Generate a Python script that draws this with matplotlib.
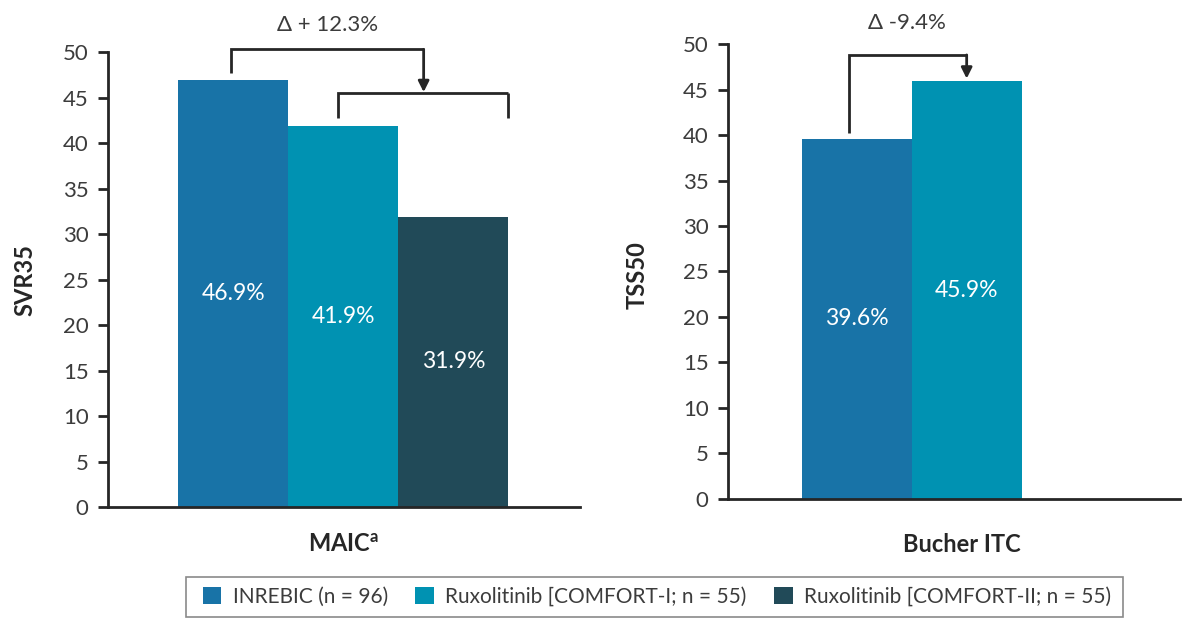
import matplotlib
matplotlib.use("Agg")
import matplotlib.pyplot as plt
from matplotlib.patches import Patch, Rectangle

plt.rcParams['font.family'] = ['Lato', 'DejaVu Sans']

# values
series_labels = ["INREBIC (n = 96)", "Ruxolitinib [COMFORT-I; n = 55)", "Ruxolitinib [COMFORT-II; n = 55)"]
series_colors = ["#1873a7", "#0092b2", "#214a58"]
maic_svr35 = [46.9, 41.9, 31.9]
bucher_tss50 = [39.6, 45.9]
maic_delta = "Δ + 12.3%"
bucher_delta = "Δ -9.4%"
yticks = [0, 5, 10, 15, 20, 25, 30, 35, 40, 45, 50]

ink = "#262626"
txt = "#3c3c3c"
W, H = 1190, 619

fig = plt.figure(figsize=(11.9, 6.19), dpi=100)
ax1 = fig.add_axes([0.0908, 0.1809, 0.3966, 0.735])
ax2 = fig.add_axes([0.6118, 0.1939, 0.3798, 0.735])


def style(ax):
    for s in ["top", "right"]:
        ax.spines[s].set_visible(False)
    for s in ["left", "bottom"]:
        ax.spines[s].set_linewidth(2)
        ax.spines[s].set_color(ink)
    ax.set_ylim(0, 50)
    ax.set_yticks(yticks)
    ax.tick_params(axis="y", length=7, width=2, color=ink, labelsize=16, labelcolor=txt, pad=7)
    ax.tick_params(axis="x", length=0, labelbottom=False)


def bars(ax, values):
    xs = range(len(values))
    ax.bar(xs, values, width=1.0, color=series_colors[:len(values)], linewidth=0)
    for x, v in zip(xs, values):
        ax.text(x, v / 2, f"{v:.1f}%", color="white", ha="center", va="center", fontsize=16.5)


def bracket(ax, x0, x1, y_top, y0, y1, lw=2):
    ax.plot([x0, x0, x1], [y0, y_top, y_top], color=ink, lw=lw, clip_on=False,
            solid_joinstyle="miter", solid_capstyle="butt")
    if y1 is not None:
        ax.plot([x1, x1], [y_top, y1], color=ink, lw=lw, clip_on=False, solid_capstyle="butt")


# MAIC panel
style(ax1)
bars(ax1, maic_svr35)
ax1.set_xlim(-1.136, 3.15)
bracket(ax1, 0.955, 2.5, 45.5, 42.7, 42.7)
bracket(ax1, -0.02, 1.73, 50.3, 47.7, None)
ax1.annotate("", xy=(1.73, 45.6), xytext=(1.73, 50.3),
             arrowprops=dict(arrowstyle="-|>", color=ink, lw=2, mutation_scale=16,
                             shrinkA=0, shrinkB=0), annotation_clip=False)
ax1.text(0.86, 53.0, maic_delta, ha="center", va="center", fontsize=16, color=txt, clip_on=False)

# Bucher ITC panel
style(ax2)
bars(ax2, bucher_tss50)
ax2.set_xlim(-1.17, 2.94)
bracket(ax2, -0.07, 1.0, 48.8, 40.2, None)
ax2.annotate("", xy=(1.0, 46.2), xytext=(1.0, 48.8),
             arrowprops=dict(arrowstyle="-|>", color=ink, lw=2, mutation_scale=16,
                             shrinkA=0, shrinkB=0), annotation_clip=False)
ax2.text(0.46, 52.3, bucher_delta, ha="center", va="center", fontsize=16, color=txt, clip_on=False)

# axis titles
fig.text(25 / W, 1 - 280 / H, "SVR35", rotation=90, ha="center", va="center",
         fontsize=17, fontweight="bold", color=ink)
fig.text(637 / W, 1 - 275 / H, "TSS50", rotation=90, ha="center", va="center",
         fontsize=17, fontweight="bold", color=ink)
fig.text(344 / W, 1 - 545 / H, r"MAIC$^\mathregular{a}$", ha="center", va="center",
         fontsize=17, fontweight="bold", color=ink)
fig.text(962 / W, 1 - 545 / H, "Bucher ITC", ha="center", va="center",
         fontsize=17, fontweight="bold", color=ink)

# legend with a plain frame drawn around it
fig.patches.append(Rectangle((186 / W, 1 - 617 / H), (1123 - 186) / W, 40 / H,
                             transform=fig.transFigure, facecolor="white",
                             edgecolor="#8a8a8a", linewidth=1.2, zorder=0))
handles = [Patch(facecolor=c, edgecolor="none") for c in series_colors]
leg = fig.legend(handles, series_labels, loc="center", bbox_to_anchor=(657 / W, 1 - 597 / H),
                 ncol=3, fontsize=15, frameon=False, handlelength=0.9,
                 handleheight=0.9, handletextpad=0.55, columnspacing=1.3, borderpad=0.3)
for t in leg.get_texts():
    t.set_color(txt)

fig.savefig("out.png", dpi=100, facecolor="white")
